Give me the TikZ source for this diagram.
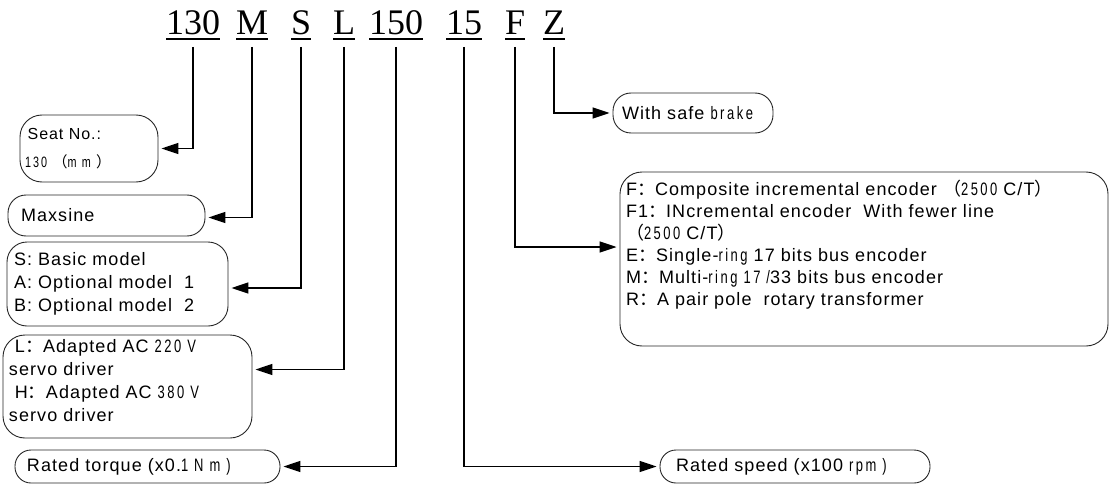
\documentclass[tikz,border=0pt]{standalone}
\usepackage{fontspec}
\setmainfont{Liberation Sans}[LetterSpace=6]
\newfontfamily\codefont{Liberation Serif}
\newfontfamily\cjk{Noto Sans CJK SC}
\newfontfamily\nar{Liberation Sans}[FakeStretch=0.72,LetterSpace=14]
\usetikzlibrary{arrows.meta,positioning,calc}
\newcommand{\fc}{{\cjk ：}}
\newcommand{\lp}{{\cjk （}}
\newcommand{\rp}{{\cjk ）}}

\begin{document}
\begin{tikzpicture}[x=1pt,y=-1pt,
  >={Triangle[length=17pt,width=11pt]},
  code/.style={anchor=base west,inner sep=0pt,outer sep=0pt,
               font=\codefont\fontsize{36}{40}\selectfont},
  ul/.style={line width=1.4pt},
  box/.style={draw=black!85,line width=0.9pt,rounded corners=18pt,align=left,
              inner ysep=2pt,font=\fontsize{18}{23}\selectfont},
  con/.style={->,line width=1.3pt,shorten >=3pt}]
\useasboundingbox (0,0) rectangle (1113,484);
% ---------------- model code
\node[code] (c130) at (166,35) {130};
\node[code] (cM)   at (236,35) {M};
\node[code] (cS)   at (291,35) {S};
\node[code] (cL)   at (333,35) {L};
\node[code] (c150) at (369,35) {150};
\node[code] (c15)  at (446,35) {15};
\node[code] (cF)   at (505,35) {F};
\node[code] (cZ)   at (543,35) {Z};
\foreach \n in {c130,cM,cS,cL,c150,c15,cF,cZ}
  \draw[ul] ([yshift=-4pt]\n.base west) -- ([yshift=-4pt]\n.base east);
% ---------------- left column
\node[box,rounded corners=22pt,inner xsep=5pt,text width=128pt,minimum height=67pt,
      font=\fontsize{16}{28}\selectfont] (seat) at (89,148.5)
  {\,Seat No.:\\{\nar\fontsize{15}{28}\selectfont 130 \cjk（\nar m m \cjk）}};
\node[box,inner xsep=13pt,text width=171pt,minimum height=41pt] (maxs) at (106.5,215.5)
  {Maxsine};
\node[box,rounded corners=20pt,inner xsep=7pt,text width=207pt,minimum height=84pt] (sbox) at (117.5,284)
  {S: Basic model\\A: Optional model\ \ 1\\B: Optional model\ \ 2};
\node[box,rounded corners=22pt,inner xsep=6pt,text width=237pt,minimum height=103pt] (lbox) at (127.5,386.5)
  {\ L\fc Adapted AC {\nar 220 V}\\servo driver\\\ H\fc Adapted AC {\nar 380 V}\\servo driver\\[-10pt]\mbox{}};
\node[box,rounded corners=16pt,inner xsep=12pt,text width=241pt,minimum height=33pt] (torq) at (147.5,466.5)
  {Rated torque (x0.{\nar 1 N m )}};
% ---------------- right column
\node[box,inner xsep=9pt,text width=142pt,minimum height=40pt] (brake) at (693,113)
  {With safe {\nar brake}};
\node[box,rounded corners=22pt,inner xsep=6pt,text width=476pt,minimum height=174pt,
      font=\fontsize{18}{22}\selectfont] (fbox) at (864,259)
  {F\fc Composite\ incremental encoder \lp{\nar 2500} C/T\rp\\
   F1\fc INcremental encoder\ \ With fewer line\\
   \lp{\nar 2500} C/T\rp\\
   E\fc Single-{\nar ring} 17 bits bus encoder\\
   M\fc Multi-{\nar ring 17 /}33 bits bus encoder\\
   R\fc A pair pole\ \ rotary transformer\\[10pt]\mbox{}};
\node[box,rounded corners=16pt,inner xsep=16pt,text width=238pt,minimum height=33pt] (speed) at (795,466.5)
  {Rated speed (x100 {\nar rpm )}};
% ---------------- connectors
\draw[con] ([yshift=-12pt]c130.base) |- (seat.east);
\draw[con] ([yshift=-12pt]cM.base) |- ([yshift=-2pt]maxs.east);
\draw[con] ([yshift=-12pt]cS.base) |- ([yshift=-4pt]sbox.east);
\draw[con] ([yshift=-12pt]cL.base) |- ([yshift=17pt]lbox.east);
\draw[con] ([yshift=-12pt]c150.base) |- (torq.east);
\draw[con] ([yshift=-12pt]c15.base) |- (speed.west);
\draw[con] ([yshift=-12pt]cF.base) |- ([yshift=12pt]fbox.west);
\draw[con] ([yshift=-12pt]cZ.base) |- (brake.west);
\end{tikzpicture}
\end{document}
